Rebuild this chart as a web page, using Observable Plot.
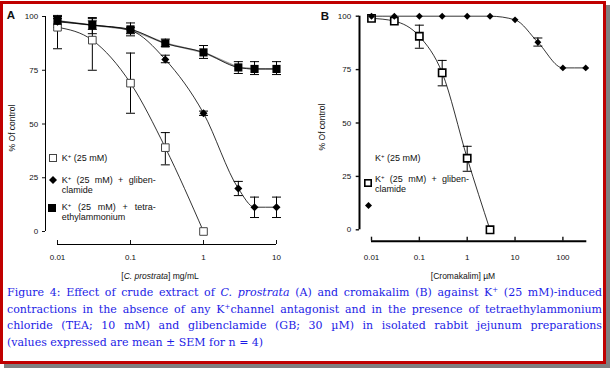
<!DOCTYPE html>
<html><head><meta charset="utf-8">
<script src="https://cdn.jsdelivr.net/npm/d3@7"></script>
<script src="https://cdn.jsdelivr.net/npm/@observablehq/plot@0.6"></script>
<style>
body{margin:0;background:#fff;}
#wrap{position:relative;width:610px;height:368px;overflow:hidden;background:#fff;font-family:"Liberation Sans",Arial,sans-serif;color:#111;}
#box{position:absolute;left:0;top:1px;width:600px;height:357px;border:3px solid #c00000;box-shadow:4px 4px 0 #808080;}
.panel{position:absolute;top:0;}
.lbl{position:absolute;font-size:8.5px;white-space:nowrap;transform:translate(-50%,-50%);}
.ylbl{position:absolute;font-size:8.5px;white-space:nowrap;transform:translate(-50%,-50%) rotate(-90deg);}
.plet{position:absolute;font-weight:bold;font-size:11.5px;transform:translate(-50%,-50%);}
.leg{position:absolute;font-size:9px;line-height:10px;white-space:nowrap;}
.legb{position:absolute;font-size:9px;line-height:10px;width:94px;}
.legb .j{text-align:justify;text-align-last:justify;}
.sym{position:absolute;overflow:visible;}
.sp{font-size:6px;vertical-align:3px;line-height:0;}
#cap{position:absolute;left:7px;width:595px;top:285px;font-family:"DejaVu Serif",serif;font-size:11px;line-height:16.7px;color:#1c1ce6;}
#cap .ln{text-align:justify;text-align-last:justify;}
#cap .last{text-align:left;}
#cap sup{font-size:7px;vertical-align:4px;line-height:0;}
</style></head>
<body>
<div id="wrap">
  <div id="box"></div>
  <div id="pA" class="panel" style="left:0"></div>
  <div id="pB" class="panel" style="left:300px"></div>

  <div class="plet" style="left:11px;top:15px">A</div>
  <div class="plet" style="left:325px;top:16px">B</div>
  <div class="ylbl" style="left:12px;top:127.5px">% Of control</div>
  <div class="ylbl" style="left:322px;top:127px">% Of control</div>
  <div class="lbl" style="left:160px;top:276px">[<i>C. prostrata</i>] mg/mL</div>
  <div class="lbl" style="left:463px;top:276px">[Cromakalim] µM</div>

  <!-- legend A -->
  <svg class="sym" style="left:49px;top:153.7px" width="8" height="8"><rect x="0.5" y="0.5" width="7" height="7" fill="#fff" stroke="#444"/></svg>
  <div class="leg" style="left:61.7px;top:152.7px">K<span class="sp">+</span> (25 mM)</div>
  <svg class="sym" style="left:49.3px;top:176px" width="8" height="8"><path d="M4,0L8,4L4,8L0,4Z" fill="#000"/></svg>
  <div class="legb" style="left:61.7px;top:175px"><div class="j">K<span class="sp">+</span> (25 mM) + gliben-</div><div>clamide</div></div>
  <svg class="sym" style="left:48.2px;top:203.5px" width="8" height="8"><rect x="0" y="0" width="8" height="8" fill="#000"/></svg>
  <div class="legb" style="left:61.7px;top:202.3px"><div class="j">K<span class="sp">+</span> (25 mM) + tetra-</div><div>ethylammonium</div></div>

  <!-- legend B -->
  <div class="leg" style="left:375px;top:152.7px">K<span class="sp">+</span> (25 mM)</div>
  <svg class="sym" style="left:364.3px;top:178.7px" width="8" height="8"><rect x="0.8" y="0.8" width="6.4" height="6.4" fill="#fff" stroke="#000" stroke-width="1.6"/></svg>
  <div class="legb" style="left:375px;top:174.3px"><div class="j">K<span class="sp">+</span> (25 mM) + gliben-</div><div>clamide</div></div>
  <svg class="sym" style="left:364.8px;top:201.5px" width="7" height="7"><path d="M3.5,0L7,3.5L3.5,7L0,3.5Z" fill="#000"/></svg>

  <div id="cap">
    <div class="ln">Figure 4: Effect of crude extract of <i>C. prostrata</i> (A) and cromakalim (B) against K<sup>+</sup> (25 mM)-induced</div>
    <div class="ln">contractions in the absence of any K<sup>+</sup>channel antagonist and in the presence of tetraethylammonium</div>
    <div class="ln">chloride (TEA; 10 mM) and glibenclamide (GB; 30 µM) in isolated rabbit jejunum preparations</div>
    <div class="last">(values expressed are mean ± SEM for n = 4)</div>
  </div>
</div>
<script>
// ---------- data ----------
const yTicks = [0, 25, 50, 75, 100];
const xTicksA = [0.01, 0.1, 1, 10];
const xTickLabelsA = ["0.01", "0.1", "1", "10"];
const xTicksB = [0.01, 0.1, 1, 10, 100];
const xTickLabelsB = ["0.01", "0.1", "1", "10", "100"];
const xDomainA = [0.01, 10];
const xDomainB = [0.01, 316];

// Panel A: C. prostrata (mg/mL)
const aK_x  = [0.01, 0.03, 0.1, 0.3, 1];
const aK_y  = [95, 89, 69, 39, 0];
const aK_lo = [85, 75, 55, 31, null];
const aK_hi = [100, 99, 83, 46, null];

const aGB_x  = [0.01, 0.03, 0.1, 0.3, 1, 3, 5, 10];
const aGB_y  = [97.5, 96, 93.5, 80, 55, 20, 11.3, 11.3];
const aGB_lo = [96, 94, 92, 78.5, 54, 16.7, 6.5, 6.5];
const aGB_hi = [99, 98, 95, 82, 56, 23.3, 16, 16];

const aTEA_x  = [0.01, 0.03, 0.1, 0.3, 1, 3, 5, 10];
const aTEA_y  = [98, 96, 94, 87.5, 83.3, 76.3, 75.6, 75.6];
const aTEA_lo = [95, 92, 91, 86, 80.5, 73.5, 73, 73];
const aTEA_hi = [100.5, 99.5, 97, 89.5, 86.5, 79, 79, 79];

// Panel B: cromakalim (µM)
const bK_x  = [0.01, 0.03, 0.1, 0.3, 1, 3];
const bK_y  = [99, 97.7, 90.6, 73.5, 33.5, 0];
const bK_lo = [null, null, 85, 67.4, 27.4, null];
const bK_hi = [null, null, 95.8, 79.3, 39.1, null];

const bGB_x  = [0.01, 0.03, 0.1, 0.3, 1, 3, 10, 30, 100, 300];
const bGB_y  = [100, 100, 100, 100, 100, 100, 98.3, 87.8, 75.8, 75.8];
const bGB_lo = [null, null, null, null, null, null, null, 86, null, null];
const bGB_hi = [null, null, null, null, null, null, null, 89.8, null, null];

// ---------- helpers ----------
function rows(xs, ys, lo, hi) {
  return xs.map((x, i) => ({x, y: ys[i], lo: lo[i], hi: hi[i]}));
}
function capSymbol(half) {
  return {draw(ctx) { ctx.moveTo(-half, 0); ctx.lineTo(half, 0); }};
}
function errMarks(data, half, stroke) {
  const e = data.filter(d => d.lo != null);
  return [
    Plot.ruleX(e, {x: "x", y1: "lo", y2: "hi", stroke, strokeWidth: 1}),
    Plot.dot(e, {x: "x", y: "lo", symbol: capSymbol(half), stroke, fill: "none", strokeWidth: 1}),
    Plot.dot(e, {x: "x", y: "hi", symbol: capSymbol(half), stroke, fill: "none", strokeWidth: 1})
  ];
}
const font = {fontFamily: '"Liberation Sans", Arial, sans-serif', fontSize: "8px", background: "transparent", overflow: "visible", color: "#111"};

// ---------- panel A ----------
const A_K = rows(aK_x, aK_y, aK_lo, aK_hi);
const A_GB = rows(aGB_x, aGB_y, aGB_lo, aGB_hi);
const A_TEA = rows(aTEA_x, aTEA_y, aTEA_lo, aTEA_hi);

const plotA = Plot.plot({
  width: 300, height: 270,
  marginLeft: 57, marginRight: 24, marginTop: 16, marginBottom: 39,
  x: {type: "log", domain: xDomainA},
  y: {domain: [0, 100]},
  style: font,
  marks: [
    Plot.ruleX([xDomainA[0]], {y1: 0, y2: 100, dx: -12, stroke: "#000"}),
    Plot.ruleY([0], {x1: xDomainA[0], x2: xDomainA[1], dy: 13, stroke: "#000"}),
    Plot.axisY({ticks: yTicks, tickSize: 3, tickPadding: 4.3, dx: -12, label: null, fontSize: 8}),
    Plot.axisX({ticks: xTicksA, tickFormat: d => xTickLabelsA[xTicksA.indexOf(d)], tickSize: -4, tickPadding: 14, dy: 13, label: null, fontSize: 8}),
    Plot.line(A_TEA, {x: "x", y: "y", stroke: "#9a9a9a", strokeWidth: 1.8}),
    Plot.line(A_TEA, {x: "x", y: "y", curve: "monotone-x", stroke: "#000", strokeWidth: 0.8}),
    Plot.line(A_GB, {x: "x", y: "y", curve: "monotone-x", stroke: "#000", strokeWidth: 0.8}),
    Plot.line(A_K, {x: "x", y: "y", curve: "monotone-x", stroke: "#000", strokeWidth: 0.8}),
    ...errMarks(A_K, 4.5, "#000"),
    ...errMarks(A_GB, 4.5, "#000"),
    ...errMarks(A_TEA, 4.5, "#000"),
    Plot.dot(A_K, {x: "x", y: "y", symbol: "square", r: 4.3, fill: "#fff", stroke: "#444", strokeWidth: 1}),
    Plot.dot(A_GB, {x: "x", y: "y", symbol: "diamond2", r: 3.6, fill: "#000", stroke: "none"}),
    Plot.dot(A_TEA, {x: "x", y: "y", symbol: "square", r: 4.6, fill: "#000", stroke: "none"})
  ]
});
document.getElementById("pA").append(plotA);

// ---------- panel B ----------
const B_K = rows(bK_x, bK_y, bK_lo, bK_hi);
const B_GB = rows(bGB_x, bGB_y, bGB_lo, bGB_hi);

const plotB = Plot.plot({
  width: 300, height: 270,
  marginLeft: 71, marginRight: 13.7, marginTop: 15.7, marginBottom: 40.7,
  x: {type: "log", domain: xDomainB},
  y: {domain: [0, 100]},
  style: font,
  marks: [
    Plot.ruleX([xDomainB[0]], {y1: 0, y2: 100, dx: -12, stroke: "#000", strokeWidth: 2}),
    Plot.ruleY([0], {x1: xDomainB[0], x2: xDomainB[1], dy: 11.4, stroke: "#000", strokeWidth: 2}),
    Plot.axisY({ticks: yTicks, tickSize: 3.3, tickPadding: 5, dx: -12, label: null, fontSize: 8, strokeWidth: 1.4}),
    Plot.axisX({ticks: xTicksB, tickFormat: d => xTickLabelsB[xTicksB.indexOf(d)], tickSize: -4, tickPadding: 17, dy: 11.4, label: null, fontSize: 8, strokeWidth: 1.4}),
    Plot.line(B_GB, {x: "x", y: "y", curve: "monotone-x", stroke: "#000", strokeWidth: 0.8}),
    Plot.line(B_K, {x: "x", y: "y", curve: "monotone-x", stroke: "#000", strokeWidth: 0.8}),
    ...errMarks(B_K, 4.5, "#000"),
    ...errMarks(B_GB, 4.5, "#000"),
    Plot.dot(B_K, {x: "x", y: "y", symbol: "square", r: 4.1, fill: "#fff", stroke: "#000", strokeWidth: 1.6}),
    Plot.dot(B_GB, {x: "x", y: "y", symbol: "diamond2", r: 3.1, fill: "#000", stroke: "none"})
  ]
});
document.getElementById("pB").append(plotB);

// keep justified caption lines on one line each
document.querySelectorAll("#cap .ln, #cap .last").forEach(el => {
  let ls = 0;
  while (el.getBoundingClientRect().height > 20 && ls > -1.5) {
    ls -= 0.05;
    el.style.letterSpacing = ls + "px";
  }
});
</script>
</body></html>
